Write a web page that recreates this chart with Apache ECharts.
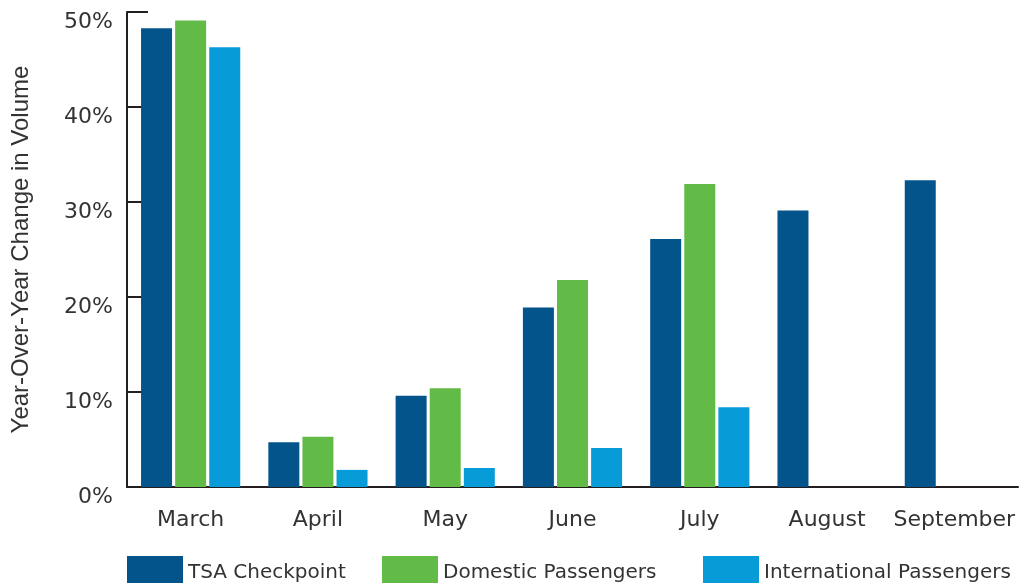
<!DOCTYPE html>
<html>
<head>
<meta charset="utf-8">
<script src="https://cdn.jsdelivr.net/npm/echarts@6/dist/echarts.min.js"></script>
<style>
html,body{margin:0;padding:0;background:#fff;}
#chart{width:1025px;height:586px;}
</style>
</head>
<body>
<div id="chart"></div>
<script>
const categories = ['March','April','May','June','July','August','September'];
const tsaCheckpoint = [48.3, 4.7, 9.6, 18.9, 26.1, 29.1, 32.3];
const domesticPassengers = [49.1, 5.3, 10.4, 21.8, 31.9, null, null];
const internationalPassengers = [46.3, 1.8, 2.0, 4.1, 8.4, null, null];
const seriesNames = ['TSA Checkpoint','Domestic Passengers','International Passengers'];
const colors = ['#02548B','#62BB46','#079BD8'];
const yTickValues = [0,10,20,30,40,50];

const FONT = '"DejaVu Sans", sans-serif';
const AXIS = '#231F20';
const TEXT = '#333';

const chart = echarts.init(document.getElementById('chart'), null, {renderer:'canvas'});

function legendAt(name, left){
  return {
    data:[name], left:left, top:556, padding:0, itemWidth:56, itemHeight:27,
    icon:'rect', itemGap:0,
    formatter:'{t|{name}}',
    textStyle:{fontFamily:FONT, fontSize:20, color:TEXT,
      rich:{t:{fontFamily:FONT, fontSize:20, color:TEXT, padding:[7,0,0,0]}}}
  };
}

chart.setOption({
  animation:false,
  color:colors,
  grid:{left:127, right:7, top:12, bottom:99, containLabel:false},
  legend:[legendAt(seriesNames[0],127), legendAt(seriesNames[1],382), legendAt(seriesNames[2],703)],
  xAxis:{
    type:'category', data:categories,
    axisLine:{lineStyle:{color:AXIS, width:2}},
    axisTick:{inside:true, length:11, interval:0, lineStyle:{color:AXIS, width:2}},
    axisLabel:{fontFamily:FONT, fontSize:22, color:TEXT, margin:22, interval:0}
  },
  yAxis:{
    type:'value', min:yTickValues[0], max:yTickValues[yTickValues.length-1], interval:10,
    name:'Year-Over-Year Change in Volume', nameLocation:'middle', nameGap:94,
    nameTextStyle:{fontFamily:'"Liberation Sans", Arial, sans-serif', fontSize:24, color:TEXT},
    axisLine:{show:true, lineStyle:{color:AXIS, width:2}},
    axisTick:{show:true, inside:true, length:21, lineStyle:{color:AXIS, width:2}},
    splitLine:{show:false},
    axisLabel:{fontFamily:FONT, fontSize:22, color:TEXT, margin:14,
      verticalAlign:'top', lineHeight:21,
      formatter:function(v){return v+'%';}}
  },
  series:[
    {name:seriesNames[0], type:'bar', data:tsaCheckpoint, barWidth:31, barGap:'10%'},
    {name:seriesNames[1], type:'bar', data:domesticPassengers, barWidth:31, barGap:'10%'},
    {name:seriesNames[2], type:'bar', data:internationalPassengers, barWidth:31, barGap:'10%'}
  ]
});
</script>
</body>
</html>
